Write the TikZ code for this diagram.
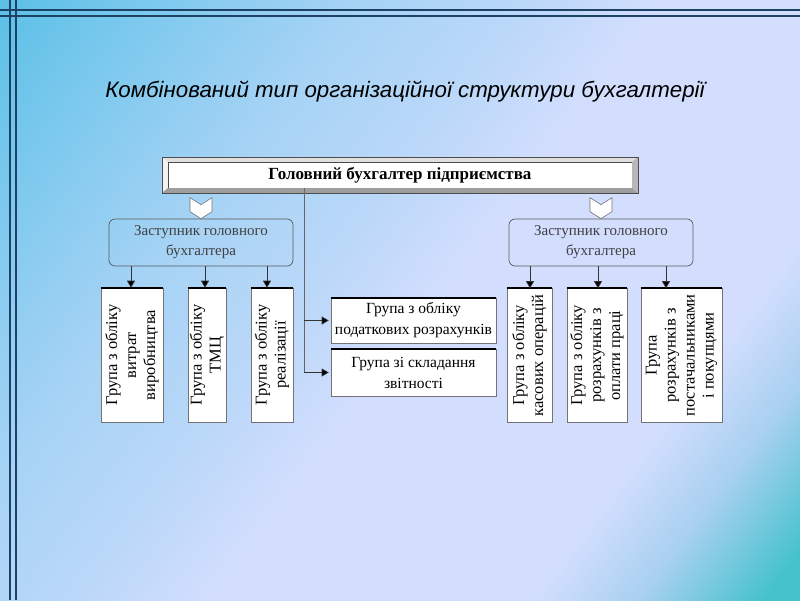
\documentclass[tikz,border=0pt]{standalone}
\usepackage{fontspec}
\setmainfont{Liberation Serif}
\newfontfamily\nazvafont{Liberation Sans}
\usetikzlibrary{arrows.meta,positioning,calc}
\definecolor{fon1}{HTML}{5BC0E6}
\definecolor{fon2}{HTML}{82CAEF}
\definecolor{fon3}{HTML}{A6D3F5}
\definecolor{fon4}{HTML}{BCD8F9}
\definecolor{fon5}{HTML}{D3DEFE}
\definecolor{fon6}{HTML}{A8D0F0}
\definecolor{fon7}{HTML}{46C2CC}
\definecolor{temn}{HTML}{1E4266}
\pgfdeclarehorizontalshading{fon}{100bp}{color(0bp)=(fon1); color(15bp)=(fon1);
  color(25bp)=(fon2); color(35bp)=(fon3); color(45bp)=(fon4); color(52bp)=(fon5);
  color(70bp)=(fon5); color(76bp)=(fon6); color(83bp)=(fon7); color(100bp)=(fon7)}
\tikzset{
  linia/.style={temn,line width=2pt},
  golov/.style={draw=black!70,fill=white,minimum width=464,minimum height=26,
    inner sep=0pt,font=\bfseries\fontsize{17}{19}\selectfont},
  zast/.style={draw=black!65,rounded corners=6pt,line width=0.7pt,minimum width=184,
    minimum height=47,align=center,text=black!75,font=\fontsize{15}{20}\selectfont},
  klyn/.style={draw=black!55,fill=white,line width=0.6pt},
  grupa/.style={draw=black!55,fill=white,line width=0.6pt,align=center,inner sep=0pt,
    font=\fontsize{16.5}{19}\selectfont},
  vert/.style={grupa,rotate=90,minimum width=134},
  verkh/.style={line width=1.8pt,black},
  strilka/.style={draw=black!80,line width=0.7pt,-{Triangle[length=7pt,width=8pt,fill=black]}},
}
\begin{document}
\begin{tikzpicture}[x=1pt,y=-1pt]
  \useasboundingbox (0,0) rectangle (800,600);
  \shade[shading=fon,shading angle=-37] (0,0) rectangle (800,600);
  \foreach \p in {9.5,15.5} {\draw[linia] (0,\p) -- (800,\p); \draw[linia] (\p,0) -- (\p,600);}
  \node[font=\nazvafont\itshape\fontsize{22.3}{25}\selectfont] (nazva) at (405,92)
    {Комбінований тип організаційної структури бухгалтерії};
  % golovnyi bukhhalter, z ramkoiu
  \node[golov] (gol) at (400,175) {Головний бухгалтер підприємства};
  \coordinate (a) at ([shift={(-6,-5)}]gol.north west);
  \coordinate (b) at ([shift={(6,-5)}]gol.north east);
  \coordinate (c) at ([shift={(6,5)}]gol.south east);
  \coordinate (d) at ([shift={(-6,5)}]gol.south west);
  \fill[black!12] (a) -- (b) -- (gol.north east) -- (gol.north west) -- cycle;
  \fill[black!5] (a) -- (gol.north west) -- (gol.south west) -- (d) -- cycle;
  \fill[black!38] (d) -- (c) -- (gol.south east) -- (gol.south west) -- cycle;
  \fill[black!28] (b) -- (gol.north east) -- (gol.south east) -- (c) -- cycle;
  \draw[black!70,line width=0.6pt] (a) rectangle (c);
  % zastupnyky
  \node[zast] (zl) at (201,242.5) {Заступник головного\\бухгалтера};
  \node[zast] (zr) at (601,242.5) {Заступник головного\\бухгалтера};
  \foreach \z in {zl,zr}
    \draw[klyn] ([shift={(-11,-21)}]\z.north) -- ++(11,7) -- ++(11,-7) -- ++(0,14)
      -- ++(-11,7) -- ++(-11,-7) -- cycle;
  % hrupy
  \node[vert,minimum height=62] (g1) at (132,355) {Група з обліку\\витрат\\виробництва};
  \node[vert,minimum height=38] (g2) at (207,355) {Група з обліку\\ТМЦ};
  \node[vert,minimum height=42] (g3) at (272,355) {Група з обліку\\реалізації};
  \node[vert,minimum height=45] (g4) at (529.5,355.5) {Група з обліку\\касових операцій};
  \node[vert,minimum height=60] (g5) at (597,355.5) {Група з обліку\\розрахунків з\\оплати праці};
  \node[vert,minimum height=81] (g6) at (681.5,355.5)
    {Група\\розрахунків з\\постачальниками\\і покупцями};
  \node[grupa,minimum width=165,minimum height=45,font=\fontsize{15.5}{21}\selectfont]
    (p1) at (413.5,320.5) {Група з обліку\\податкових розрахунків};
  \node[grupa,minimum width=165,minimum height=47,font=\fontsize{15.5}{21}\selectfont]
    (p2) at (413.5,372.5) {Група зі складання\\звітності};
  \foreach \g in {g1,g2,g3,g4,g5,g6} \draw[verkh] (\g.north east) -- (\g.south east);
  \foreach \g in {p1,p2} \draw[verkh] (\g.north west) -- (\g.north east);
  % strilky
  \foreach \z/\g/\dx in {zl/g1/-70,zl/g2/4,zl/g3/66,zr/g4/-71,zr/g5/-3,zr/g6/65}
    \draw[strilka] ([xshift=\dx]\z.south) coordinate (s) -- (s |- \g.east);
  \coordinate (v) at ([xshift=-96]gol.south);
  \draw[black!60,line width=0.8pt] (v) -- (v |- p2.west);
  \draw[strilka,shorten >=2pt] (v |- p1.west) -- (p1.west);
  \draw[strilka,shorten >=2pt] (v |- p2.west) -- (p2.west);
\end{tikzpicture}
\end{document}
